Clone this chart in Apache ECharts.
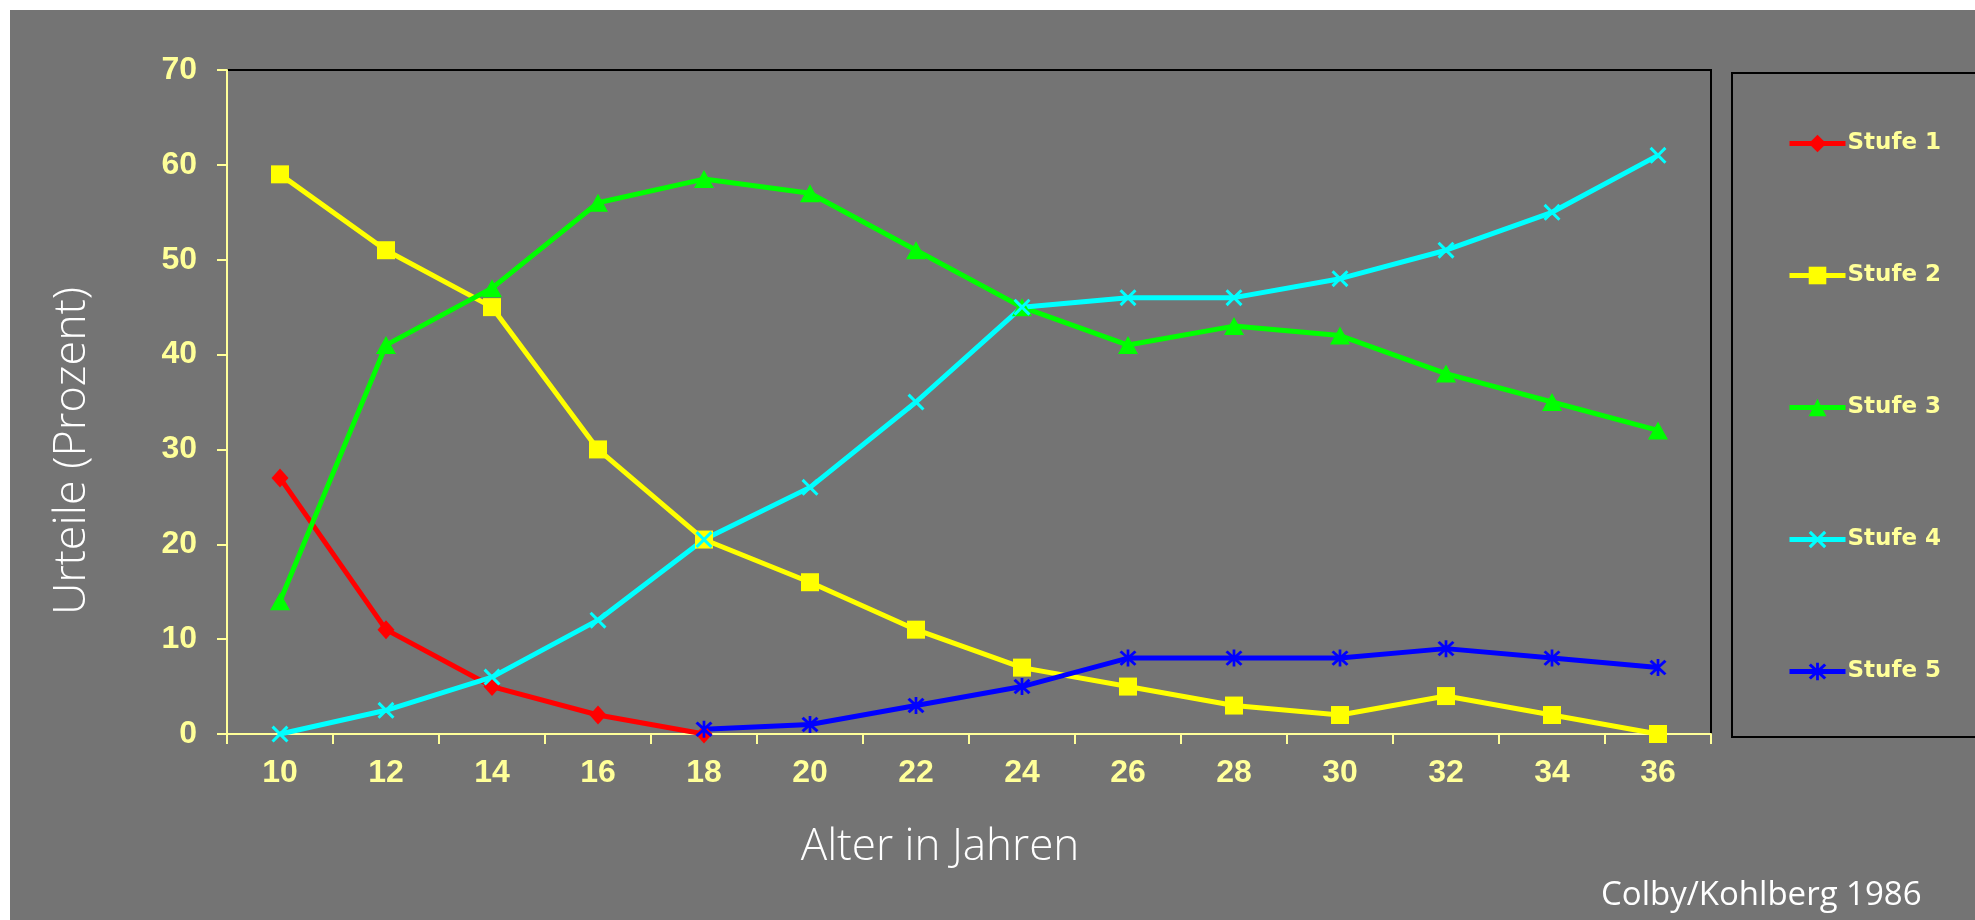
<!DOCTYPE html>
<html>
<head>
<meta charset="utf-8">
<title>Urteile nach Stufen und Alter</title>
<script src="https://cdn.jsdelivr.net/npm/echarts@6/dist/echarts.min.js"></script>
<style>
  html, body { margin: 0; padding: 0; background: #ffffff; }
  #chart { position: absolute; left: 10px; top: 10px; width: 1965px; height: 910px; }
</style>
</head>
<body>
<div id="chart"></div>
<script>
// Alter (Jahre) on the category axis
const ages = ['10', '12', '14', '16', '18', '20', '22', '24', '26', '28', '30', '32', '34', '36'];

// Anteil der Urteile je Stufe in Prozent
const stufe1 = [27, 11, 5, 2, 0, null, null, null, null, null, null, null, null, null];
const stufe2 = [59, 51, 45, 30, 20.5, 16, 11, 7, 5, 3, 2, 4, 2, 0];
const stufe3 = [14, 41, 47, 56, 58.5, 57, 51, 45, 41, 43, 42, 38, 35, 32];
const stufe4 = [0, 2.5, 6, 12, 20.5, 26, 35, 45, 46, 46, 48, 51, 55, 61];
const stufe5 = [null, null, null, null, 0.5, 1, 3, 5, 8, 8, 8, 9, 8, 7];

const seriesNames = ['Stufe 1', 'Stufe 2', 'Stufe 3', 'Stufe 4', 'Stufe 5'];
const seriesColors = ['#ff0000', '#ffff00', '#00ff00', '#00ffff', '#0000ff'];

// Value axis range
const yMin = 0;
const yMax = 70;
const yStep = 10;

// Marker shapes: a thin "x" cross and an asterisk (x plus vertical bar)
const crossPath = 'path://M1.25,0 L5,3.75 L8.75,0 L10,1.25 L6.25,5 L10,8.75 L8.75,10 L5,6.25 L1.25,10 L0,8.75 L3.75,5 L0,1.25 Z';
const starPath = 'path://M1.25,0 L5,3.75 L8.75,0 L10,1.25 L6.25,5 L10,8.75 L8.75,10 L5,6.25 L1.25,10 L0,8.75 L3.75,5 L0,1.25 Z M4.2,-0.5 L5.8,-0.5 L5.8,10.5 L4.2,10.5 Z';

const markers = [
  { symbol: 'diamond', size: [17, 19] },
  { symbol: 'rect', size: 18 },
  { symbol: 'triangle', size: [20, 18] },
  { symbol: crossPath, size: 17 },
  { symbol: starPath, size: 17 }
];

const seriesData = [stufe1, stufe2, stufe3, stufe4, stufe5];

const paleYellow = '#ffff99';
const tickFont = '"Liberation Sans", Arial, sans-serif';
const titleFont = '"Open Sans", "Noto Sans", sans-serif';

const chart = echarts.init(document.getElementById('chart'), null, { renderer: 'canvas' });

const option = {
  backgroundColor: '#747474',
  animation: false,
  grid: {
    left: 217,
    top: 60,
    width: 1484,
    height: 664,
    show: true,
    borderColor: '#000000',
    borderWidth: 2,
    backgroundColor: 'transparent',
    containLabel: false
  },
  xAxis: {
    type: 'category',
    data: ages,
    boundaryGap: true,
    axisLine: { show: true, lineStyle: { color: paleYellow, width: 2 } },
    axisTick: { show: true, inside: false, length: 10, alignWithLabel: false, lineStyle: { color: paleYellow, width: 2 } },
    axisLabel: {
      color: paleYellow,
      fontFamily: tickFont,
      fontWeight: 'bold',
      fontSize: 32,
      margin: 23,
      interval: 0
    },
    splitLine: { show: false }
  },
  yAxis: {
    type: 'value',
    min: yMin,
    max: yMax,
    interval: yStep,
    axisLine: { show: true, lineStyle: { color: paleYellow, width: 2 } },
    axisTick: { show: true, inside: false, length: 10, lineStyle: { color: paleYellow, width: 2 } },
    axisLabel: {
      color: paleYellow,
      fontFamily: tickFont,
      fontWeight: 'bold',
      fontSize: 32,
      margin: 30
    },
    splitLine: { show: false }
  },
  legend: {
    orient: 'vertical',
    left: 1772,
    top: 117,
    itemWidth: 56,
    itemHeight: 22,
    itemGap: 109,
    data: seriesNames,
    lineStyle: { width: 5 },
    textStyle: {
      color: paleYellow,
      fontFamily: '"DejaVu Sans", Verdana, sans-serif',
      fontWeight: 'bold',
      fontSize: 23,
      padding: [0, 0, 0, -3]
    }
  },
  graphic: [
    {
      type: 'rect',
      silent: true,
      shape: { x: 1722, y: 63, width: 300, height: 664 },
      style: { fill: 'none', stroke: '#000000', lineWidth: 2 }
    },
    {
      type: 'text',
      silent: true,
      x: 62,
      y: 441,
      rotation: Math.PI / 2,
      style: {
        text: 'Urteile (Prozent)',
        fill: '#ffffff',
        font: '300 45px ' + titleFont,
        textAlign: 'center',
        textVerticalAlign: 'middle'
      }
    },
    {
      type: 'text',
      silent: true,
      x: 930,
      y: 837,
      style: {
        text: 'Alter in Jahren',
        fill: '#ffffff',
        font: '300 44px ' + titleFont,
        textAlign: 'center',
        textVerticalAlign: 'middle'
      }
    },
    {
      type: 'text',
      silent: true,
      x: 1591,
      y: 886,
      style: {
        text: 'Colby/Kohlberg 1986',
        fill: '#ffffff',
        font: '400 33px ' + titleFont,
        textAlign: 'left',
        textVerticalAlign: 'middle'
      }
    }
  ],
  series: seriesNames.map(function (name, i) {
    return {
      name: name,
      type: 'line',
      data: seriesData[i],
      connectNulls: false,
      symbol: markers[i].symbol,
      symbolSize: markers[i].size,
      showAllSymbol: true,
      lineStyle: { color: seriesColors[i], width: 5 },
      itemStyle: { color: seriesColors[i], borderWidth: 0 },
      emphasis: { disabled: true }
    };
  })
};

chart.setOption(option);
</script>
</body>
</html>
